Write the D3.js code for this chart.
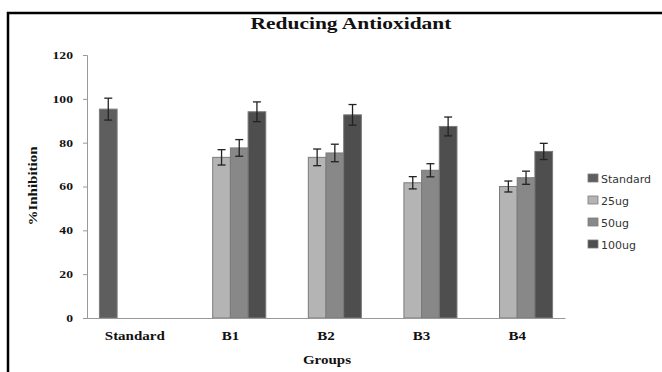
<!DOCTYPE html>
<html lang="en">
<head>
<meta charset="UTF-8">
<title>Reducing Antioxidant</title>
<script src="https://cdn.jsdelivr.net/npm/d3@7"></script>
<style>
  body { margin: 0; background: #fff; }
  text { font-family: "Liberation Serif", "DejaVu Serif", serif; font-weight: bold; fill: #111; }
  .legend text { font-family: "DejaVu Sans", sans-serif; font-weight: normal; fill: #333; }
</style>
</head>
<body>
<svg width="662" height="372"></svg>
<script>
// data
var groups = ["Standard", "B1", "B2", "B3", "B4"];
var seriesNames = ["Standard", "25ug", "50ug", "100ug"];
var colors = ["#5e5e5e", "#b4b4b4", "#888888", "#4e4e4e"];
var yTicks = [0, 20, 40, 60, 80, 100, 120];
// values per series, one per group (null = no bar)
var valStandard = [95.3, null, null, null, null];
var val25 = [null, 73.3, 73.3, 61.7, 60.0];
var val50 = [null, 77.6, 75.3, 67.4, 64.0];
var val100 = [null, 94.1, 92.7, 87.4, 76.0];
var errStandard = [5, null, null, null, null];
var err25 = [null, 3.5, 3.8, 2.8, 2.5];
var err50 = [null, 3.8, 4.0, 3.0, 3.0];
var err100 = [null, 4.5, 4.7, 4.3, 3.7];

var values = [valStandard, val25, val50, val100];
var errors = [errStandard, err25, err50, err100];

var svg = d3.select("svg");
var margin = {left: 87, right: 97, top: 55, bottom: 54};
var width = 662 - margin.left - margin.right;
var height = 372 - margin.top - margin.bottom;

// the serif text in the picture is wider than normal
function stretch(sel, k) {
  sel.each(function() {
    var w = this.getComputedTextLength();
    d3.select(this).attr("textLength", w * k).attr("lengthAdjust", "spacingAndGlyphs");
  });
}

// outer frame
svg.append("rect")
  .attr("x", 8).attr("y", 13)
  .attr("width", 700).attr("height", 400)
  .attr("fill", "none").attr("stroke", "#000").attr("stroke-width", 2.5);

svg.append("text")
  .attr("x", 351).attr("y", 29)
  .attr("text-anchor", "middle")
  .style("font-size", "16.5px")
  .text("Reducing Antioxidant")
  .call(stretch, 1.3);

var g = svg.append("g").attr("transform", "translate(" + margin.left + "," + margin.top + ")");

var x0 = d3.scaleBand().domain(groups).range([0, width]).paddingInner(0.26).paddingOuter(0.13);
var x1 = d3.scaleBand().domain(seriesNames).range([0, x0.bandwidth()]);
var y = d3.scaleLinear().domain([0, 120]).range([height, 0]);

// y axis
var yAxis = g.append("g").call(d3.axisLeft(y).tickValues(yTicks).tickSize(4).tickPadding(10));
yAxis.selectAll("path, line").attr("stroke", "#999");
yAxis.selectAll("text").style("font-size", "10.5px").attr("fill", "#111").call(stretch, 1.3);

// bars
var rows = [];
seriesNames.forEach(function(s, si) {
  groups.forEach(function(gname, gi) {
    if (values[si][gi] != null) {
      rows.push({group: gname, series: s, si: si, v: values[si][gi], e: errors[si][gi]});
    }
  });
});

g.selectAll(".bar").data(rows).enter().append("rect")
  .attr("class", "bar")
  .attr("x", function(d) { return x0(d.group) + x1(d.series); })
  .attr("y", function(d) { return y(d.v); })
  .attr("width", x1.bandwidth())
  .attr("height", function(d) { return height - y(d.v); })
  .attr("fill", function(d) { return colors[d.si]; })
  .attr("stroke", "#7a7a7a").attr("stroke-width", 1);

// error bars
var eb = g.selectAll(".err").data(rows).enter().append("g").attr("class", "err")
  .attr("transform", function(d) { return "translate(" + (x0(d.group) + x1(d.series) + x1.bandwidth() / 2) + ",0)"; });
eb.append("line")
  .attr("y1", function(d) { return y(d.v + d.e); })
  .attr("y2", function(d) { return y(d.v - d.e); })
  .attr("stroke", "#222").attr("stroke-width", 1.3);
eb.append("line").attr("x1", -4).attr("x2", 4)
  .attr("y1", function(d) { return y(d.v + d.e); })
  .attr("y2", function(d) { return y(d.v + d.e); })
  .attr("stroke", "#222").attr("stroke-width", 1.3);
eb.append("line").attr("x1", -4).attr("x2", 4)
  .attr("y1", function(d) { return y(d.v - d.e); })
  .attr("y2", function(d) { return y(d.v - d.e); })
  .attr("stroke", "#222").attr("stroke-width", 1.3);

// x axis
var xAxis = g.append("g").attr("transform", "translate(0," + height + ")")
  .call(d3.axisBottom(x0).tickSize(0).tickPadding(13));
xAxis.select(".domain").attr("stroke", "#999");
xAxis.selectAll("text").style("font-size", "12px").attr("fill", "#111").call(stretch, 1.25);

// axis titles
svg.append("text")
  .attr("x", 327).attr("y", 364)
  .attr("text-anchor", "middle")
  .style("font-size", "12px")
  .text("Groups")
  .call(stretch, 1.25);
svg.append("text")
  .attr("transform", "translate(37,186) rotate(-90)")
  .attr("text-anchor", "middle")
  .style("font-size", "12px")
  .text("%Inhibition")
  .call(stretch, 1.25);

// legend
var legend = svg.append("g").attr("class", "legend")
  .attr("transform", "translate(588,174)");
var li = legend.selectAll("g").data(seriesNames).enter().append("g")
  .attr("transform", function(d, i) { return "translate(0," + (i * 22) + ")"; });
li.append("rect").attr("width", 10).attr("height", 8)
  .attr("fill", function(d, i) { return colors[i]; })
  .attr("stroke", "#7a7a7a").attr("stroke-width", 0.8);
li.append("text").attr("x", 13).attr("y", 8.5)
  .style("font-size", "11px")
  .text(function(d) { return d; });
</script>
</body>
</html>
